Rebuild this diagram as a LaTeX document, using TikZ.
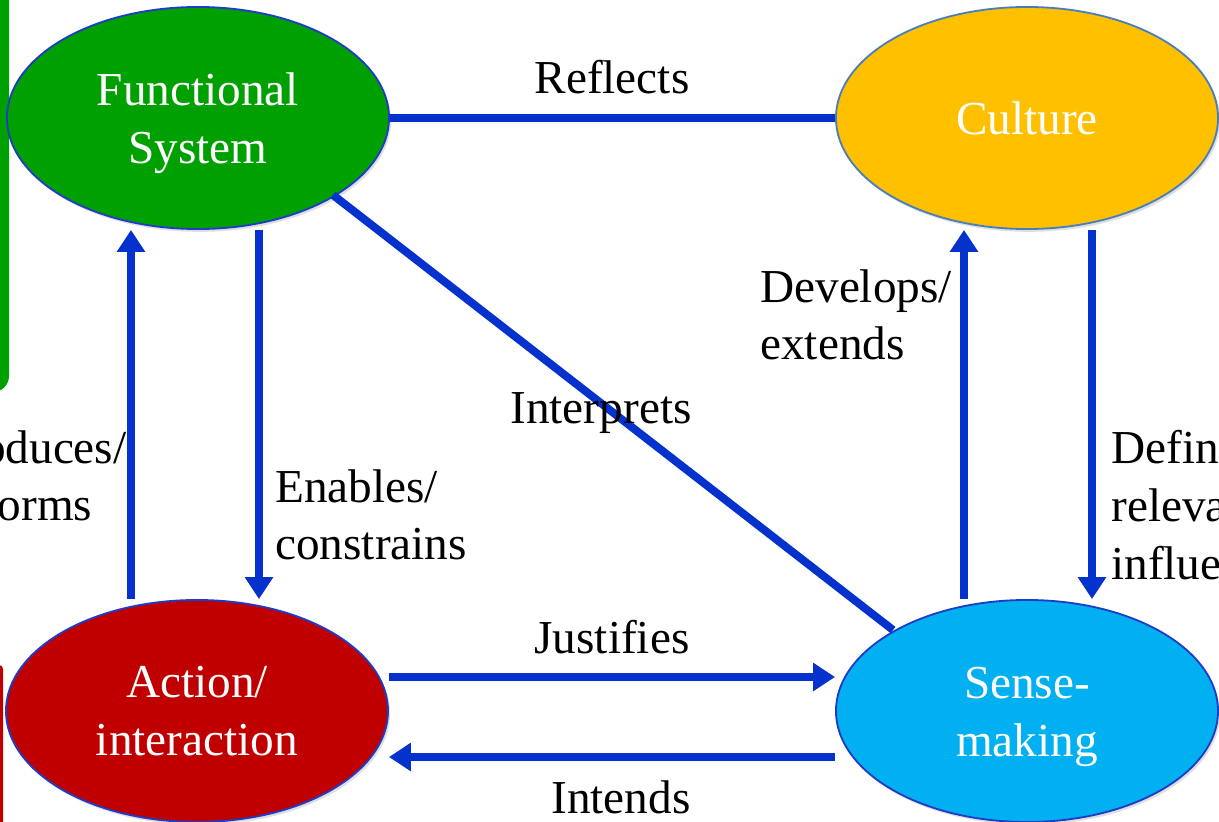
\documentclass[tikz,border=0pt]{standalone}
\usepackage{fontspec}
\setmainfont{Liberation Serif}
\usetikzlibrary{shapes.geometric,arrows.meta,calc,shadows}
\definecolor{fsgreen}{RGB}{0,160,0}
\definecolor{cuorange}{RGB}{255,192,0}
\definecolor{aired}{RGB}{192,0,0}
\definecolor{smcyan}{RGB}{0,176,240}
\definecolor{linkblue}{RGB}{5,50,205}
\definecolor{rimblue}{RGB}{30,60,200}
\definecolor{rimsteel}{RGB}{74,126,187}
% extra headroom on a first line, lowering two-line labels a little
\newcommand{\headroom}{\rule{0pt}{30.5pt}}
\tikzset{
  bigfont/.style={font=\fontsize{33.6pt}{41pt}\selectfont},
  blob/.style={ellipse, draw=rimblue, line width=1.3pt, inner sep=0pt,
    minimum width=9.55cm, minimum height=5.55cm, text=white, align=center,
    bigfont, drop shadow={opacity=0.25, shadow xshift=0.05cm, shadow yshift=-0.07cm}},
  link/.style={draw=linkblue, line width=0.2cm},
  linkarrow/.style={link, -{Triangle[length=0.55cm, width=0.68cm]}},
  lbl/.style={bigfont, text=black, inner sep=0pt},
}
\begin{document}
\begin{tikzpicture}[x=0.025cm, y=-0.025cm]
\useasboundingbox (0,0) rectangle (1219,822);
\clip (0,0) rectangle (1219,822);
\fill[white] (0,0) rectangle (1219,822);

% side bars of neighbouring shapes
\fill[fsgreen, rounded corners=0.4cm] (-40,-40) rectangle (9,392);
\fill[aired, rounded corners=0.1cm] (-40,665) rectangle (3,860);

% the four concepts
\node[blob, fill=fsgreen] (fs) at (198,118) {\headroom Functional\\System};
\node[blob, fill=cuorange, draw=rimsteel] (cu) at (1027,118) {Culture};
\node[blob, fill=aired] (ai) at (197,711) {Action/\\interaction};
\node[blob, fill=smcyan] (sm) at (1027,711) {\headroom Sense-\\making};

% relations
\draw[link] (fs.east) -- (cu.west);
\draw[link] ($(fs.center)+(135,77)$) -- ($(sm.center)+(-134,-81)$);
\draw[linkarrow] ($(fs.south)+(61,0)$) -- ($(ai.north)+(62,0)$);
\draw[linkarrow] ($(ai.north)+(-66,0)$) -- ($(fs.south)+(-67,0)$);
\draw[linkarrow] ($(ai.east)+(0,-34)$) -- ($(sm.west)+(0,-34)$);
\draw[linkarrow] ($(sm.west)+(0,46)$) -- ($(ai.east)+(0,46)$);
\draw[linkarrow] ($(sm.north)+(-63,0)$) -- ($(cu.south)+(-63,0)$);
\draw[linkarrow] ($(cu.south)+(65,0)$) -- ($(sm.north)+(65,0)$);

% relation labels
\node[lbl] (reflects) at (612,77) {Reflects};
\node[lbl] (interprets) at (601,413) {Interprets};
\node[lbl, anchor=west, align=left] (enables) at (275,515) {Enables/\\constrains};
\node[lbl, anchor=west, align=left] (reproduces) at (-110,476) {Reproduces/\\transforms};
\node[lbl, anchor=west, align=left] (develops) at (760,315) {Develops/\\extends};
\node[lbl, anchor=west, align=left] (defines) at (1111,505) {Defines/\\relevance/\\influences};
\node[lbl] (justifies) at (612,637) {Justifies};
\node[lbl] (intends) at (621,797) {Intends};
\end{tikzpicture}
\end{document}
